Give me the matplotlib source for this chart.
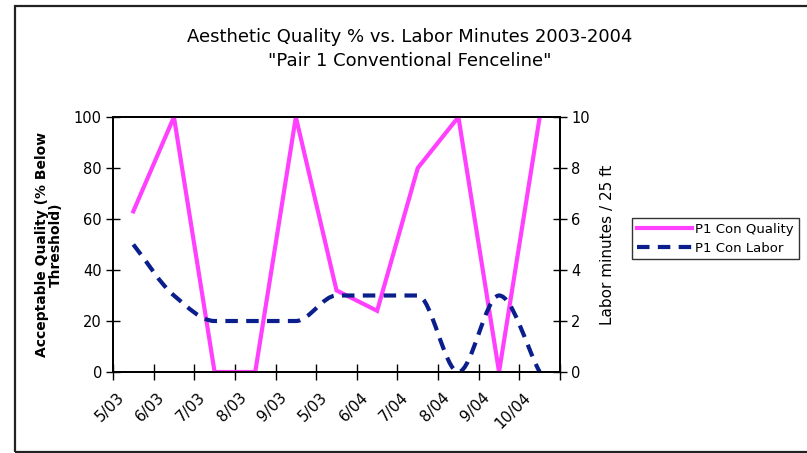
import matplotlib
matplotlib.use("Agg")
import matplotlib.pyplot as plt
from matplotlib.path import Path
from matplotlib.patches import PathPatch, Rectangle
from matplotlib.lines import Line2D
import numpy as np

# data
months = ["5/03", "6/03", "7/03", "8/03", "9/03", "5/03",
          "6/04", "7/04", "8/04", "9/04", "10/04"]
quality = [63, 100, 0, 0, 100, 32, 24, 80, 100, 0, 100]
labor = [5, 3, 2, 2, 2, 3, 3, 3, 0, 3, 0]

pink = "#ff40ff"
navy = "#0b1f8c"

plt.rcParams["font.family"] = "DejaVu Sans"

fig = plt.figure(figsize=(8.07, 4.53), dpi=100)
ax = fig.add_axes([113 / 807, 1 - 372 / 453, 447 / 807, 255 / 453])
ax2 = ax.twinx()

x = np.arange(len(months))
ax.plot(x, quality, color=pink, lw=3, solid_joinstyle="miter", zorder=3)


# smoothed line without overshoot (monotone hermite -> bezier)
def smooth_path(xs, ys):
    xs = np.asarray(xs, float)
    ys = np.asarray(ys, float)
    d = np.diff(ys) / np.diff(xs)
    m = np.zeros_like(ys)
    m[0], m[-1] = d[0], d[-1]
    for i in range(1, len(ys) - 1):
        if d[i - 1] * d[i] > 0:
            m[i] = 2 / (1 / d[i - 1] + 1 / d[i])
    verts = [(xs[0], ys[0])]
    codes = [Path.MOVETO]
    for i in range(len(ys) - 1):
        h = xs[i + 1] - xs[i]
        verts += [(xs[i] + h / 3, ys[i] + m[i] * h / 3),
                  (xs[i + 1] - h / 3, ys[i + 1] - m[i + 1] * h / 3),
                  (xs[i + 1], ys[i + 1])]
        codes += [Path.CURVE4] * 3
    return Path(verts, codes)


ax2.add_patch(PathPatch(smooth_path(x, labor), fill=False, edgecolor=navy,
                        lw=3, linestyle=(0, (3, 2)), capstyle="butt"))

ax.set_xlim(-0.5, len(months) - 0.5)
ax.set_ylim(0, 100)
ax2.set_ylim(0, 10)
ax.set_yticks(range(0, 101, 20))
ax2.set_yticks(range(0, 11, 2))

# category boundaries carry the tick marks, labels sit just left of centres
ax.set_xticks(np.arange(-0.5, len(months), 1.0))
ax.set_xticklabels([])
ax.set_xticks(x - 0.15, minor=True)
ax.set_xticklabels(months, minor=True, rotation=45, ha="right", va="top")
ax.tick_params(axis="x", which="minor", length=0, pad=13, labelsize=11)
ax.tick_params(axis="x", which="major", direction="inout", length=11, width=1)
ax.tick_params(axis="y", direction="inout", length=10, width=1, labelsize=10.5, pad=3)
ax2.tick_params(axis="y", direction="inout", length=10, width=1, labelsize=10.5, pad=3)

for a in (ax, ax2):
    for s in a.spines.values():
        s.set_linewidth(1.3)
        s.set_color("black")

ax.set_ylabel("Acceptable Quality (% Below\nThreshold)", fontsize=10,
              fontweight="bold", linespacing=1.0)
ax.yaxis.set_label_coords(-0.112, 0.5)
ax2.set_ylabel("Labor minutes / 25 ft", fontsize=11)
ax2.yaxis.set_label_coords(1.09, 0.5)

fig.text(0.508, 1 - 37 / 453, "Aesthetic Quality % vs. Labor Minutes 2003-2004",
         ha="center", va="center", fontsize=13)
fig.text(0.508, 1 - 61 / 453, "\"Pair 1 Conventional Fenceline\"",
         ha="center", va="center", fontsize=13)

handles = [Line2D([], [], color=pink, lw=3),
           Line2D([], [], color=navy, lw=3, linestyle=(0, (3, 2)))]
leg = fig.legend(handles, ["P1 Con Quality", "P1 Con Labor"],
                 loc="upper left", bbox_to_anchor=(632 / 807, 1 - 218 / 453),
                 fontsize=9.5, frameon=True, fancybox=False, handlelength=4.2,
                 handletextpad=0.25, borderpad=0.35, labelspacing=0.45,
                 borderaxespad=0)
leg.get_frame().set_edgecolor("black")
leg.get_frame().set_linewidth(1)

# outer chart border
fig.patches.append(Rectangle((15 / 807, 1 / 453), 800 / 807, 446 / 453,
                             transform=fig.transFigure, fill=False,
                             edgecolor="#222222", lw=1.6))

fig.savefig("out.png", dpi=100)
